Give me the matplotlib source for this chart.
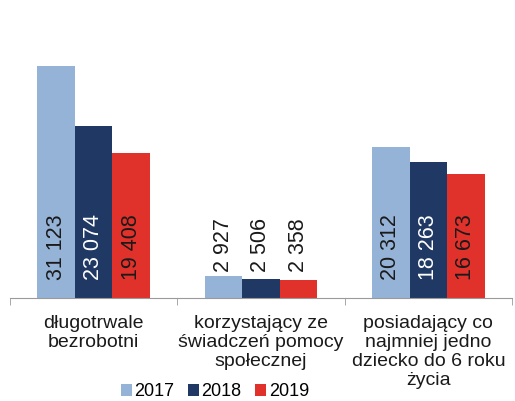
import numpy as np
import matplotlib.pyplot as plt

plt.rcParams['font.family'] = ['Liberation Sans', 'DejaVu Sans']

# data
categories = ["długotrwale\nbezrobotni",
              "korzystający ze\nświadczeń pomocy\nspołecznej",
              "posiadający co\nnajmniej jedno\ndziecko do 6 roku\nżycia"]
years = ["2017", "2018", "2019"]
v2017 = [31123, 2927, 20312]
v2018 = [23074, 2506, 18263]
v2019 = [19408, 2358, 16673]

colors = ["#95B3D7", "#1F3864", "#E0312B"]
text_colors = ["#1a1a1a", "white", "#1a1a1a"]

fig = plt.figure(figsize=(5.15, 4.01), dpi=100)
ax = fig.add_axes([10 / 515, 1 - 298 / 401, 502 / 515, 261 / 401])

all_vals = [v2017, v2018, v2019]
x = np.arange(len(categories))
w = 0.224
for i, (vals, yr) in enumerate(zip(all_vals, years)):
    pos = x + (i - 1) * w
    ax.bar(pos, vals, width=w, color=colors[i], label=yr)
    for j, (p, v) in enumerate(zip(pos, vals)):
        label = f"{v:,}".replace(",", " ")
        if v > 8000:
            ax.annotate(label, (p, 0), xytext=(0, 18), textcoords="offset pixels",
                        rotation=90, ha="center", va="bottom", fontsize=15.5,
                        color=text_colors[i])
        else:
            # small bars: labels sit in a row just above the tallest bar
            top = max(s[j] for s in all_vals)
            ax.annotate(label, (p, top), xytext=(0, 4), textcoords="offset pixels",
                        rotation=90, ha="center", va="bottom", fontsize=15.5,
                        color="#1a1a1a")

ax.set_xlim(-0.5, 2.5)
ax.set_ylim(0, 35000)
ax.set_yticks([])
for s in ["top", "right", "left"]:
    ax.spines[s].set_visible(False)
ax.spines["bottom"].set_color("#9a9a9a")
ax.set_xticks(x)
ax.set_xticklabels(categories, fontsize=14, linespacing=1.17, color="#1a1a1a")
ax.tick_params(axis="x", which="major", length=0, pad=12)
ax.set_xticks([-0.5, 0.5, 1.5, 2.5], minor=True)
ax.tick_params(axis="x", which="minor", length=5, color="#9a9a9a")

fig.legend(loc="center", bbox_to_anchor=(215 / 515, 1 - 392 / 401), ncol=3,
           frameon=False, fontsize=13, handlelength=0.6, handleheight=0.6,
           handletextpad=0.15, columnspacing=0.75, borderaxespad=0)

fig.savefig("out.png", dpi=100)
